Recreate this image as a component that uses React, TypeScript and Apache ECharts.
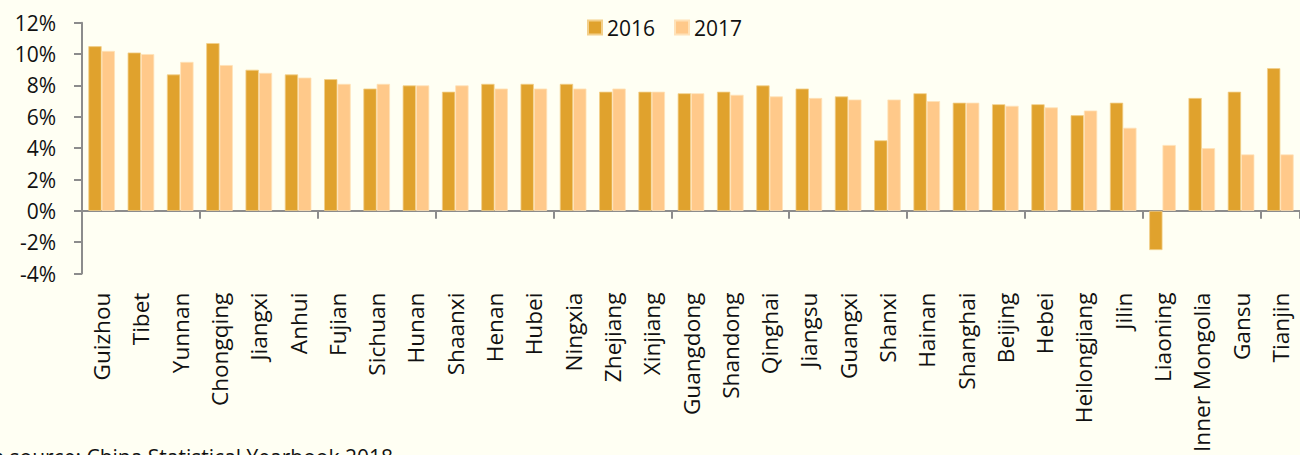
import React, { useEffect, useRef } from "react";
import * as echarts from "echarts";

const provinces = [
  "Guizhou", "Tibet", "Yunnan", "Chongqing", "Jiangxi", "Anhui", "Fujian", "Sichuan",
  "Hunan", "Shaanxi", "Henan", "Hubei", "Ningxia", "Zhejiang", "Xinjiang", "Guangdong",
  "Shandong", "Qinghai", "Jiangsu", "Guangxi", "Shanxi", "Hainan", "Shanghai", "Beijing",
  "Hebei", "Heilongjiang", "Jilin", "Liaoning", "Inner Mongolia", "Gansu", "Tianjin",
];

const growth2016 = [
  10.5, 10.1, 8.7, 10.7, 9.0, 8.7, 8.4, 7.8,
  8.0, 7.6, 8.1, 8.1, 8.1, 7.6, 7.6, 7.5,
  7.6, 8.0, 7.8, 7.3, 4.5, 7.5, 6.9, 6.8,
  6.8, 6.1, 6.9, -2.5, 7.2, 7.6, 9.1,
];

const growth2017 = [
  10.2, 10.0, 9.5, 9.3, 8.8, 8.5, 8.1, 8.1,
  8.0, 8.0, 7.8, 7.8, 7.8, 7.8, 7.6, 7.5,
  7.4, 7.3, 7.2, 7.1, 7.1, 7.0, 6.9, 6.7,
  6.6, 6.4, 5.3, 4.2, 4.0, 3.6, 3.6,
];

const seriesNames = ["2016", "2017"];
const sourceNote = "Data source: China Statistical Yearbook 2018";

const FONT = "'Open Sans', 'Noto Sans', sans-serif";
const TEXT_COLOR = "#111111";
const AXIS_COLOR = "#8c8c8c";

export default function App() {
  const ref = useRef<HTMLDivElement>(null);

  useEffect(() => {
    if (!ref.current) return;
    const chart = echarts.init(ref.current, undefined, { renderer: "svg" });
    chart.setOption({
      animation: false,
      backgroundColor: "#FFFFF3",
      textStyle: { fontFamily: FONT },
      legend: {
        data: seriesNames,
        left: 587,
        top: 17,
        padding: 0,
        itemWidth: 14,
        itemHeight: 14,
        itemGap: 19,
        icon: "rect",
        textStyle: { fontSize: 21, color: TEXT_COLOR, fontFamily: FONT },
      },
      grid: { left: 82, top: 22.7, width: 1221.4, height: 253.3, containLabel: false },
      xAxis: [
        {
          type: "category",
          data: provinces,
          axisLine: { onZero: true, lineStyle: { color: AXIS_COLOR, width: 2 } },
          axisTick: { show: true, length: 8, alignWithLabel: false, lineStyle: { color: AXIS_COLOR, width: 2 } },
          axisLabel: { show: false },
        },
        {
          type: "category",
          data: provinces,
          position: "bottom",
          axisLine: { show: false, onZero: false },
          axisTick: { show: false },
          axisLabel: {
            show: true,
            interval: 0,
            rotate: 90,
            margin: 19,
            fontSize: 22.6,
            color: TEXT_COLOR,
            fontFamily: FONT,
          },
        },
      ],
      yAxis: {
        type: "value",
        min: -4,
        max: 12,
        interval: 2,
        splitLine: { show: false },
        axisLine: { show: true, lineStyle: { color: AXIS_COLOR, width: 2 } },
        axisTick: { show: true, length: 8, lineStyle: { color: AXIS_COLOR, width: 2 } },
        axisLabel: {
          formatter: (v: number) => `${v}%`,
          fontSize: 21,
          margin: 26,
          color: TEXT_COLOR,
          fontFamily: FONT,
        },
      },
      series: [
        {
          name: seriesNames[0],
          type: "bar",
          xAxisIndex: 0,
          data: growth2016,
          barWidth: 13.3,
          barGap: "0%",
          itemStyle: { color: "#E0A22D", borderColor: "#F3CF8A", borderWidth: 0.8 },
        },
        {
          name: seriesNames[1],
          type: "bar",
          xAxisIndex: 0,
          data: growth2017,
          barWidth: 13.3,
          barGap: "0%",
          itemStyle: { color: "#FFC98A", borderColor: "#FFE2B8", borderWidth: 0.8 },
        },
      ],
      graphic: [
        {
          type: "text",
          right: 907,
          top: 446,
          style: { text: sourceNote, fontSize: 21, fill: TEXT_COLOR, fontFamily: FONT },
        },
      ],
    });
    return () => chart.dispose();
  }, []);

  return (
    <div
      style={{
        position: "absolute",
        left: 0,
        top: 0,
        width: 1300,
        height: 455,
        overflow: "hidden",
      }}
    >
      <div ref={ref} style={{ width: 1300, height: 455 }} />
    </div>
  );
}
